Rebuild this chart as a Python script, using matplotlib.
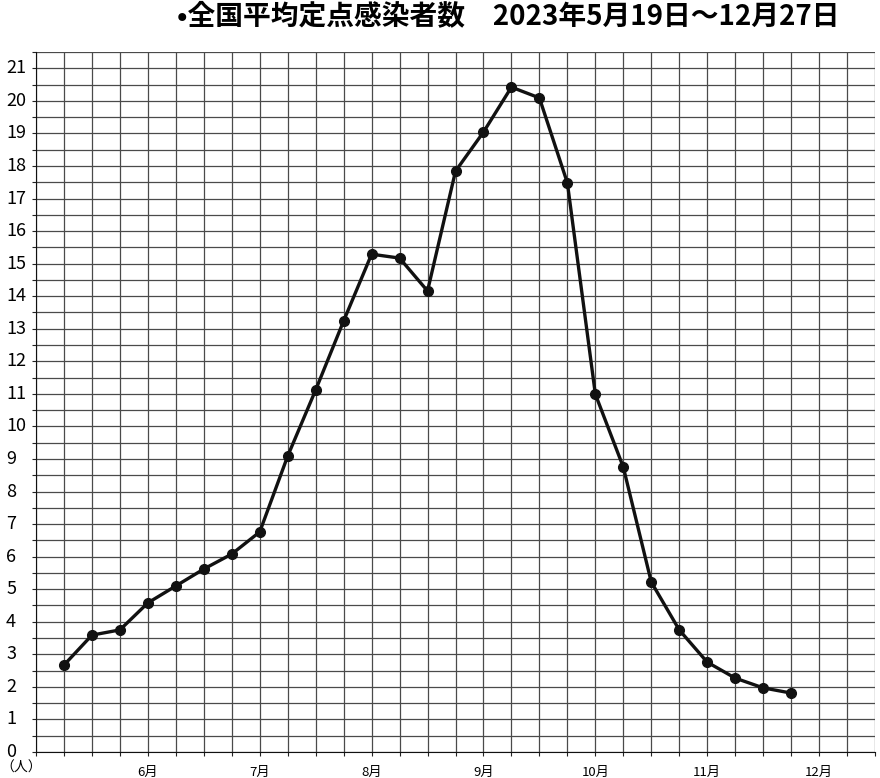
import numpy as np
import matplotlib.pyplot as plt

plt.rcParams['font.family'] = ['Noto Sans CJK JP', 'DejaVu Sans']

# weekly national average per sentinel site, 2023
weeks = np.arange(27)
values = [2.67, 3.59, 3.75, 4.58, 5.10, 5.62, 6.08, 6.76, 9.09, 11.12,
          13.24, 15.29, 15.17, 14.16, 17.84, 19.04, 20.42, 20.09, 17.48,
          10.99, 8.75, 5.22, 3.75, 2.76, 2.27, 1.97, 1.81]
month_pos = [3, 7, 11, 15, 19, 23, 27]
month_labels = ['6月', '7月', '8月', '9月', '10月', '11月', '12月']
y_labels = list(range(22))

title = '•全国平均定点感染者数　2023年5月19日～12月27日'

fig = plt.figure(figsize=(8.8, 7.78), dpi=100)
ax = fig.add_axes([36/880, 1-752/778, 839/880, 700/778])
ax.set_xlim(-1, 29)
ax.set_ylim(0, 21.5)

ax.set_xticks(np.arange(-1, 30))
ax.set_yticks(np.arange(0, 21.51, 0.5))
ax.set_xticklabels([])
ax.set_yticklabels([])
ax.tick_params(direction='out', length=3, width=0.8, color='#222')
ax.grid(True, color='#4a4a4a', linewidth=0.9)
ax.set_axisbelow(True)
for s in ['top', 'right']:
    ax.spines[s].set_visible(False)
ax.spines['left'].set_color('#111')
ax.spines['bottom'].set_color('#111')

ax.plot(weeks, values, '-o', color='#111', linewidth=2.4, markersize=7)

for v in y_labels:
    ax.text(-2.07, v, str(v), ha='left', va='center', fontsize=13, clip_on=False)
for p, lab in zip(month_pos, month_labels):
    ax.text(p, -0.62, lab, ha='center', va='center', fontsize=9.5, clip_on=False)

fig.text(0, 1-768/778, '（人）', ha='left', va='center', fontsize=10)
fig.text(508/880, 1-16/778, title, ha='center', va='center', fontsize=20,
         fontweight='bold')

fig.savefig('out.png', dpi=100)
